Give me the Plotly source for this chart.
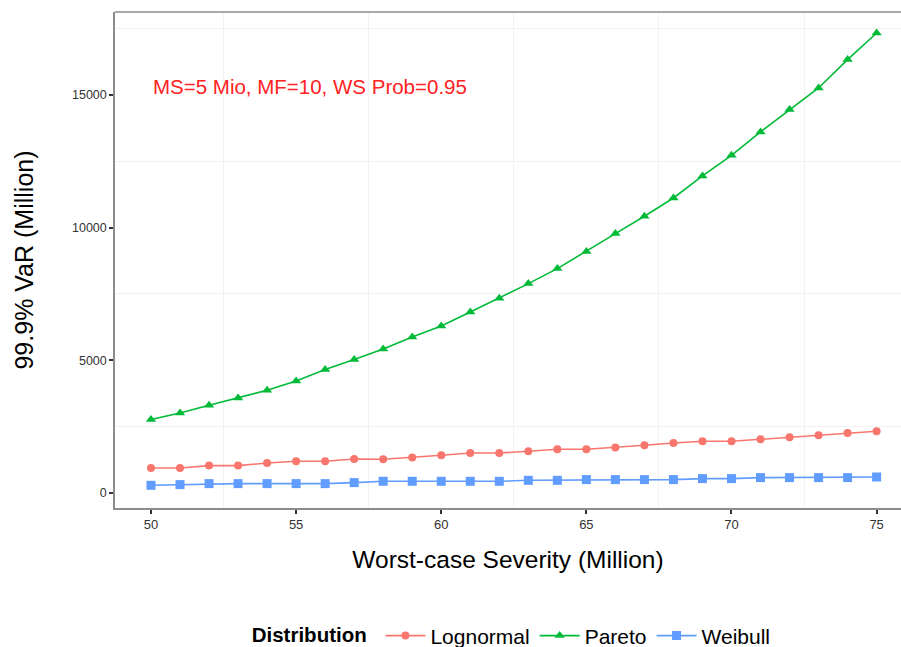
import plotly.graph_objects as go

severity = list(range(50, 76))
lognormal = [942, 942, 1032, 1032, 1130, 1194, 1194, 1281, 1270, 1334, 1420, 1507, 1507,
             1571, 1647, 1647, 1710, 1797, 1884, 1948, 1948, 2023, 2099, 2174, 2261, 2325]
pareto = [2766, 3014, 3305, 3580, 3870, 4220, 4650, 5027, 5426, 5878, 6293, 6820, 7340,
          7890, 8455, 9100, 9774, 10426, 11116, 11945, 12724, 13602, 14446, 15260, 16330, 17333]
weibull = [290, 316, 354, 354, 354, 354, 354, 392, 441, 441, 441, 441, 441,
           478, 478, 505, 505, 505, 505, 542, 542, 580, 580, 580, 580, 603]

x_ticks = [50, 55, 60, 65, 70, 75]
x_ticklabels = ["50", "55", "60", "65", "70", "75"]
y_ticks = [0, 5000, 10000, 15000]
y_ticklabels = ["0", "5000", "10000", "15000"]
x_minor = [52.5, 57.5, 62.5, 67.5, 72.5]
y_minor = [2500, 7500, 12500, 17500]

font_family = "Liberation Sans, Arial, sans-serif"

fig = go.Figure()
fig.add_trace(go.Scatter(x=severity, y=lognormal, name="Lognormal", mode="lines+markers",
                         line=dict(color="#F8766D", width=1.6),
                         marker=dict(symbol="circle", size=8, color="#F8766D")))
fig.add_trace(go.Scatter(x=severity, y=pareto, name="Pareto", mode="lines+markers",
                         line=dict(color="#00BA38", width=1.6),
                         marker=dict(symbol="triangle-up", size=9, color="#00BA38")))
fig.add_trace(go.Scatter(x=severity, y=weibull, name="Weibull", mode="lines+markers",
                         line=dict(color="#619CFF", width=1.6),
                         marker=dict(symbol="square", size=9, color="#619CFF")))

fig.add_annotation(x=50, y=15300, xref="x", yref="y", text="MS=5 Mio, MF=10, WS Prob=0.95",
                   showarrow=False, xanchor="left", yanchor="middle",
                   font=dict(color="#FF2222", size=20.5, family=font_family))

# top border line of the panel
fig.add_shape(type="line", xref="paper", yref="paper", x0=0, x1=1.0, y0=1, y1=1,
              line=dict(color="#8c8c8c", width=1.5))

fig.update_layout(
    width=901, height=647,
    margin=dict(l=115, r=0, t=12, b=139, autoexpand=False),
    paper_bgcolor="white", plot_bgcolor="white",
    font=dict(family=font_family, color="black"),
    showlegend=True,
    legend=dict(orientation="h", x=0.506, xanchor="center", y=-0.258, yanchor="middle",
                title=dict(text="<b>Distribution</b> ", side="left", font=dict(size=20.5)),
                font=dict(size=21), itemwidth=40),
    xaxis=dict(range=[48.76, 75.84], tickvals=x_ticks, ticktext=x_ticklabels,
               showgrid=False, zeroline=False,
               showline=True, linecolor="#8c8c8c", linewidth=1.5,
               ticks="outside", ticklen=4, tickcolor="#333333", tickwidth=1.5,
               tickfont=dict(size=13, color="#333333"),
               title=dict(text="Worst-case Severity (Million)", font=dict(size=24.5), standoff=20),
               minor=dict(tickvals=x_minor, showgrid=True, gridcolor="#f2f2f2", gridwidth=1, ticks="")),
    yaxis=dict(range=[-565, 18123], tickvals=y_ticks, ticktext=y_ticklabels,
               showgrid=False, zeroline=False,
               showline=True, linecolor="#8c8c8c", linewidth=1.5,
               ticks="outside", ticklen=4, tickcolor="#333333", tickwidth=1.5,
               tickfont=dict(size=12.5, color="#333333"),
               title=dict(text="99.9% VaR (Million)", font=dict(size=25), standoff=31),
               minor=dict(tickvals=y_minor, showgrid=True, gridcolor="#f2f2f2", gridwidth=1, ticks="")),
)

fig.write_html("out.html", config={"displayModeBar": False},
               post_script="document.body.style.margin='0';document.body.style.overflow='hidden';")
